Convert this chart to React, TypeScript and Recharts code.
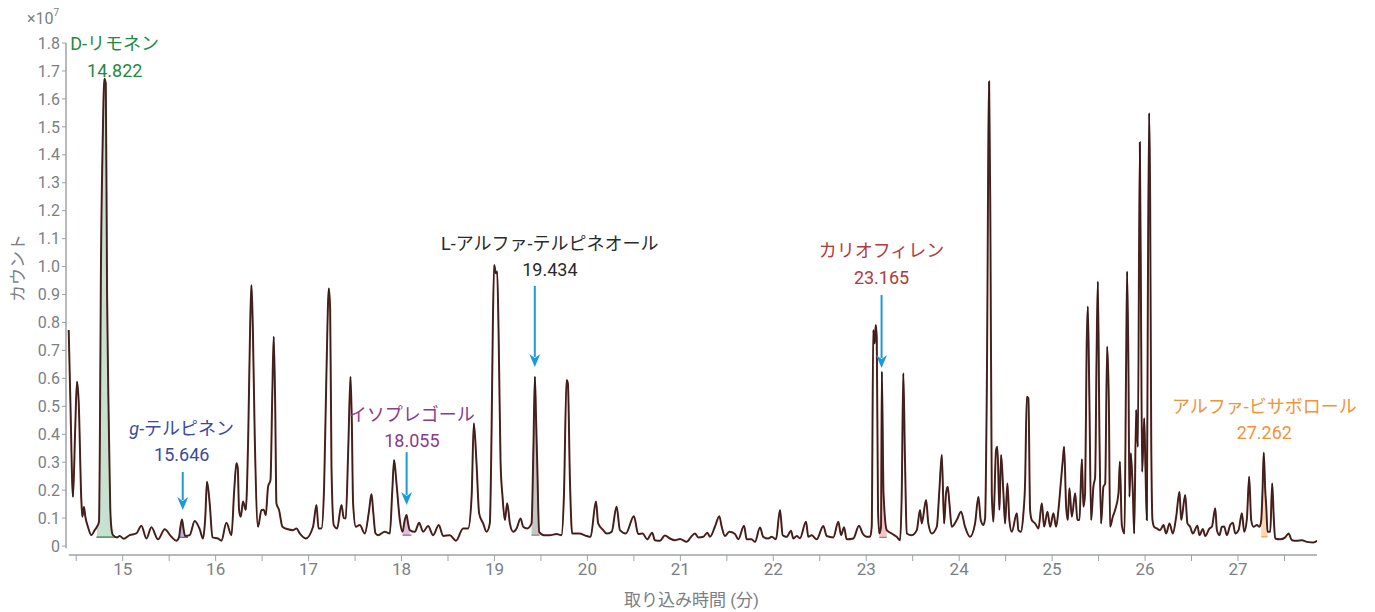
import {
  Area,
  ComposedChart,
  Line,
  ReferenceDot,
  ReferenceLine,
  XAxis,
  YAxis,
} from "recharts";

// TIC trace: [retention time (min), counts (×10^7)]
const trace: [number, number][] = [
  [14.419, 0.773], [14.437, 0.52], [14.465, 0.176], [14.489, 0.42], [14.508, 0.588],
  [14.526, 0.52], [14.555, 0.165], [14.566, 0.105], [14.583, 0.14], [14.598, 0.105],
  [14.626, 0.069], [14.663, 0.039], [14.699, 0.057], [14.723, 0.069], [14.745, 0.087],
  [14.755, 0.4], [14.765, 0.95], [14.785, 1.45], [14.803, 1.672], [14.818, 1.655],
  [14.832, 0.9], [14.85, 0.45], [14.866, 0.14], [14.88, 0.06], [14.896, 0.039],
  [14.939, 0.031], [14.968, 0.036], [15.011, 0.026], [15.075, 0.039], [15.147, 0.045],
  [15.201, 0.073], [15.255, 0.027], [15.309, 0.067], [15.38, 0.024], [15.452, 0.06],
  [15.524, 0.033], [15.578, 0.019], [15.605, 0.03], [15.622, 0.07], [15.638, 0.095],
  [15.655, 0.06], [15.672, 0.036], [15.721, 0.039], [15.775, 0.09], [15.829, 0.06],
  [15.864, 0.027], [15.888, 0.1], [15.907, 0.23], [15.936, 0.153], [15.966, 0.031],
  [16.026, 0.027], [16.062, 0.019], [16.116, 0.083], [16.17, 0.039], [16.2, 0.2],
  [16.224, 0.296], [16.238, 0.28], [16.252, 0.129], [16.27, 0.105], [16.295, 0.159],
  [16.324, 0.129], [16.351, 0.4], [16.372, 0.8], [16.385, 0.934], [16.399, 0.8],
  [16.421, 0.39], [16.456, 0.069], [16.493, 0.129], [16.518, 0.13], [16.539, 0.11],
  [16.564, 0.212], [16.59, 0.236], [16.61, 0.55], [16.625, 0.749], [16.641, 0.5],
  [16.654, 0.153], [16.682, 0.129], [16.719, 0.069], [16.779, 0.06], [16.833, 0.057],
  [16.87, 0.063], [16.905, 0.045], [16.97, 0.027], [17.048, 0.069], [17.085, 0.147],
  [17.107, 0.063], [17.139, 0.063], [17.167, 0.212], [17.191, 0.6], [17.218, 0.922],
  [17.232, 0.85], [17.247, 0.272], [17.271, 0.075], [17.307, 0.063], [17.354, 0.147],
  [17.379, 0.1], [17.4, 0.099], [17.427, 0.35], [17.451, 0.606], [17.465, 0.45],
  [17.479, 0.153], [17.508, 0.069], [17.551, 0.075], [17.605, 0.045], [17.648, 0.12],
  [17.677, 0.186], [17.696, 0.12], [17.72, 0.045], [17.748, 0.039], [17.82, 0.051],
  [17.874, 0.045], [17.901, 0.2], [17.92, 0.308], [17.946, 0.224], [17.982, 0.093],
  [18.011, 0.051], [18.033, 0.09], [18.054, 0.111], [18.071, 0.08], [18.089, 0.057],
  [18.143, 0.051], [18.189, 0.083], [18.233, 0.051], [18.286, 0.072], [18.34, 0.039],
  [18.401, 0.075], [18.448, 0.036], [18.52, 0.039], [18.585, 0.019], [18.663, 0.063],
  [18.717, 0.063], [18.754, 0.176], [18.778, 0.439], [18.807, 0.296], [18.835, 0.117],
  [18.878, 0.081], [18.915, 0.051], [18.95, 0.081], [18.969, 0.415], [18.983, 0.8],
  [18.997, 1.006], [19.015, 0.976], [19.029, 0.982], [19.044, 0.773], [19.066, 0.296],
  [19.087, 0.176], [19.112, 0.093], [19.137, 0.153], [19.166, 0.081], [19.201, 0.051],
  [19.238, 0.063], [19.281, 0.099], [19.309, 0.069], [19.352, 0.063], [19.399, 0.081],
  [19.419, 0.35], [19.435, 0.606], [19.448, 0.45], [19.46, 0.296], [19.481, 0.051],
  [19.532, 0.039], [19.596, 0.039], [19.668, 0.043], [19.722, 0.039], [19.747, 0.176],
  [19.776, 0.594], [19.79, 0.582], [19.812, 0.236], [19.836, 0.045], [19.912, 0.045],
  [19.991, 0.036], [20.034, 0.033], [20.092, 0.159], [20.116, 0.081], [20.17, 0.057],
  [20.207, 0.045], [20.261, 0.051], [20.314, 0.141], [20.35, 0.057], [20.414, 0.045],
  [20.5, 0.107], [20.547, 0.043], [20.594, 0.045], [20.643, 0.024], [20.697, 0.048],
  [20.726, 0.021], [20.78, 0.019], [20.834, 0.038], [20.888, 0.027], [20.942, 0.021],
  [20.996, 0.025], [21.068, 0.015], [21.111, 0.031], [21.157, 0.045], [21.193, 0.031],
  [21.247, 0.033], [21.29, 0.048], [21.319, 0.033], [21.372, 0.069], [21.419, 0.107],
  [21.445, 0.069], [21.48, 0.036], [21.526, 0.051], [21.588, 0.043], [21.623, 0.024],
  [21.685, 0.073], [21.714, 0.024], [21.767, 0.024], [21.803, 0.015], [21.857, 0.066],
  [21.892, 0.033], [21.946, 0.027], [21.983, 0.033], [22.029, 0.024], [22.072, 0.129],
  [22.101, 0.039], [22.144, 0.033], [22.191, 0.055], [22.215, 0.027], [22.252, 0.036],
  [22.287, 0.028], [22.352, 0.087], [22.377, 0.033], [22.413, 0.039], [22.467, 0.024],
  [22.538, 0.072], [22.575, 0.036], [22.646, 0.031], [22.7, 0.087], [22.729, 0.039],
  [22.761, 0.067], [22.79, 0.024], [22.861, 0.027], [22.922, 0.073], [22.962, 0.045],
  [23.005, 0.033], [23.041, 0.033], [23.059, 0.069], [23.076, 0.773], [23.091, 0.725],
  [23.102, 0.791], [23.113, 0.749], [23.127, 0.129], [23.141, 0.045], [23.159, 0.069],
  [23.168, 0.624], [23.186, 0.189], [23.221, 0.057], [23.274, 0.045], [23.328, 0.033],
  [23.364, 0.021], [23.382, 0.189], [23.399, 0.618], [23.417, 0.308], [23.436, 0.045],
  [23.49, 0.039], [23.544, 0.057], [23.579, 0.129], [23.597, 0.081], [23.644, 0.165],
  [23.668, 0.081], [23.705, 0.045], [23.759, 0.069], [23.787, 0.2], [23.813, 0.326],
  [23.838, 0.081], [23.859, 0.189], [23.877, 0.212], [23.895, 0.153], [23.92, 0.069],
  [23.974, 0.093], [24.02, 0.123], [24.063, 0.069], [24.117, 0.033], [24.171, 0.081],
  [24.207, 0.176], [24.232, 0.093], [24.26, 0.075], [24.279, 0.1], [24.297, 0.546],
  [24.322, 1.662], [24.336, 1.143], [24.351, 0.189], [24.368, 0.087], [24.397, 0.344],
  [24.411, 0.355], [24.433, 0.129], [24.451, 0.326], [24.476, 0.189], [24.494, 0.081],
  [24.519, 0.224], [24.54, 0.093], [24.566, 0.051], [24.62, 0.117], [24.637, 0.057],
  [24.663, 0.051], [24.691, 0.117], [24.709, 0.224], [24.728, 0.534], [24.745, 0.529],
  [24.763, 0.129], [24.781, 0.093], [24.817, 0.081], [24.853, 0.063], [24.889, 0.153],
  [24.914, 0.069], [24.95, 0.123], [24.979, 0.069], [25.014, 0.117], [25.043, 0.069],
  [25.068, 0.129], [25.093, 0.224], [25.115, 0.308], [25.129, 0.355], [25.151, 0.141],
  [25.169, 0.093], [25.186, 0.207], [25.212, 0.105], [25.248, 0.189], [25.272, 0.093],
  [25.294, 0.093], [25.32, 0.311], [25.337, 0.141], [25.355, 0.189], [25.371, 0.7],
  [25.384, 0.857], [25.401, 0.523], [25.42, 0.093], [25.444, 0.212], [25.463, 0.248],
  [25.479, 0.7], [25.492, 0.946], [25.509, 0.403], [25.527, 0.081], [25.552, 0.212],
  [25.571, 0.224], [25.592, 0.713], [25.61, 0.523], [25.624, 0.069], [25.653, 0.105],
  [25.678, 0.129], [25.714, 0.189], [25.729, 0.302], [25.75, 0.075], [25.778, 0.045],
  [25.796, 0.642], [25.807, 0.982], [25.821, 0.642], [25.832, 0.176], [25.847, 0.332],
  [25.869, 0.189], [25.883, 0.045], [25.904, 0.487], [25.922, 0.355], [25.944, 1.445],
  [25.958, 0.761], [25.969, 0.266], [25.991, 0.457], [26.004, 0.284], [26.019, 0.093],
  [26.03, 0.88], [26.044, 1.549], [26.055, 1.238], [26.066, 0.403], [26.08, 0.093],
  [26.098, 0.069], [26.127, 0.063], [26.162, 0.057], [26.198, 0.075], [26.227, 0.045],
  [26.263, 0.081], [26.299, 0.045], [26.335, 0.105], [26.37, 0.194], [26.389, 0.093],
  [26.432, 0.183], [26.456, 0.081], [26.485, 0.069], [26.514, 0.045], [26.563, 0.073],
  [26.585, 0.039], [26.622, 0.061], [26.647, 0.036], [26.693, 0.063], [26.719, 0.069],
  [26.755, 0.135], [26.773, 0.057], [26.8, 0.039], [26.827, 0.069], [26.851, 0.07],
  [26.88, 0.039], [26.916, 0.075], [26.945, 0.083], [26.97, 0.045], [27.006, 0.057],
  [27.042, 0.117], [27.067, 0.051], [27.096, 0.099], [27.12, 0.248], [27.142, 0.093],
  [27.167, 0.069], [27.203, 0.075], [27.232, 0.069], [27.25, 0.093], [27.264, 0.2],
  [27.277, 0.334], [27.293, 0.2], [27.304, 0.141], [27.318, 0.051], [27.347, 0.051],
  [27.368, 0.224], [27.386, 0.093], [27.4, 0.027], [27.454, 0.024], [27.508, 0.031],
  [27.544, 0.045], [27.58, 0.021], [27.634, 0.019], [27.688, 0.021], [27.742, 0.015],
  [27.813, 0.013], [27.85, 0.019],
];

// identified compounds
const peakNames = [
  "D-リモネン",
  "g-テルピネン",
  "イソプレゴール",
  "L-アルファ-テルピネオール",
  "カリオフィレン",
  "アルファ-ビサボロール",
];
const peakTimes = [14.822, 15.646, 18.055, 19.434, 23.165, 27.262];
const peakStart = [14.717, 15.595, 18.011, 19.399, 23.141, 27.25];
const peakEnd = [14.93, 15.703, 18.107, 19.485, 23.221, 27.318];
const peakBaseline = [0.032, 0.031, 0.039, 0.039, 0.031, 0.033];

const xTicks = [
  14.5, 15, 15.5, 16, 16.5, 17, 17.5, 18, 18.5, 19, 19.5, 20, 20.5, 21,
  21.5, 22, 22.5, 23, 23.5, 24, 24.5, 25, 25.5, 26, 26.5, 27, 27.5,
];
const yTicks = [
  0, 0.1, 0.2, 0.3, 0.4, 0.5, 0.6, 0.7, 0.8, 0.9, 1.0, 1.1, 1.2, 1.3, 1.4,
  1.5, 1.6, 1.7, 1.8,
];

const X_DOMAIN: [number, number] = [14.39, 27.85];
const Y_DOMAIN: [number, number] = [-0.032, 1.8];

const FONT = "Roboto, 'Noto Sans CJK JP', sans-serif";
const AXIS = "#9ea2a8";
const AXIS_TEXT = "#7b7f86";
const ARROW = "#1d9ad6";

const PEAK_STYLES = [
  { text: "#1f8a42", fill: "#c6e1d0", edge: "#2e7d4a" },
  { text: "#3a4a9e", fill: "#b3b8dc", edge: "#5f69b3" },
  { text: "#8c3a8c", fill: "#dcc1dc", edge: "#a463a4" },
  { text: "#2a2a2a", fill: "#c6c6c6", edge: "#8a8a8a" },
  { text: "#b23a3c", fill: "#f1c6c6", edge: "#d46a6a" },
  { text: "#f39237", fill: "#fbd7b4", edge: "#f2a25a" },
];

// label centre (min, counts) and optional arrow from/to (counts)
const LABEL_LAYOUT = [
  { x: 14.914, y: 1.797, arrow: null },
  { x: 15.635, y: 0.422, arrow: [0.265, 0.129] },
  { x: 18.111, y: 0.472, arrow: [0.336, 0.147] },
  { x: 19.596, y: 1.084, arrow: [0.931, 0.641] },
  { x: 23.165, y: 1.056, arrow: [0.898, 0.637] },
  { x: 27.283, y: 0.501, arrow: null },
];

const traceData = trace.map(([t, c]) => ({ t, c }));

function ArrowShape(props: any) {
  const { x1, y1, x2, y2 } = props;
  const head = 13;
  return (
    <g>
      <line x1={x1} y1={y1} x2={x2} y2={y2 - head + 3} stroke={ARROW} strokeWidth={2} />
      <polygon
        points={`${x2 - 5.5},${y2 - head} ${x2},${y2 - head + 4} ${x2 + 5.5},${y2 - head} ${x2},${y2}`}
        fill={ARROW}
      />
    </g>
  );
}

function peakLabel(i: number) {
  return (props: any) => {
    const { cx, cy } = props;
    const name = peakNames[i];
    const color = PEAK_STYLES[i].text;
    const italic = name.startsWith("g-");
    return (
      <g fontFamily={FONT} fontSize={18} fill={color} textAnchor="middle">
        <text x={cx} y={cy} dominantBaseline="central">
          {italic ? (
            <>
              <tspan fontStyle="italic">g</tspan>
              {name.slice(1)}
            </>
          ) : (
            name
          )}
        </text>
        <text x={cx} y={cy + 26.5} dominantBaseline="central">
          {peakTimes[i].toFixed(3)}
        </text>
      </g>
    );
  };
}

const yAxisTitles = () => (
  <g fontFamily={FONT} fill={AXIS_TEXT}>
    <text x={27} y={24} fontSize={16}>
      ×10
      <tspan fontSize={10} dy={-8}>
        7
      </tspan>
    </text>
    <text
      x={18}
      y={268}
      fontSize={17}
      textAnchor="middle"
      dominantBaseline="central"
      transform="rotate(-90 18 268)"
    >
      カウント
    </text>
  </g>
);

export default function App() {
  return (
    <div style={{ position: "absolute", left: 0, top: 0, width: 1375, height: 612, background: "#fff" }}>
      <ComposedChart width={1375} height={612} margin={{ top: 43, right: 58, bottom: 0, left: 0 }}>
        <XAxis
          type="number"
          dataKey="t"
          domain={X_DOMAIN}
          ticks={xTicks}
          allowDataOverflow
          height={57}
          axisLine={false}
          tickLine={{ stroke: AXIS }}
          tickSize={6}
          tick={{ fill: AXIS_TEXT, fontSize: 17, fontFamily: FONT }}
          tickFormatter={(v: number) => (Number.isInteger(v) ? String(v) : "")}
          label={{
            value: "取り込み時間 (分)",
            position: "insideBottom",
            offset: 6,
            fill: AXIS_TEXT,
            fontSize: 17,
            fontFamily: FONT,
          }}
        />
        <YAxis
          type="number"
          domain={Y_DOMAIN}
          ticks={yTicks}
          allowDataOverflow
          width={66}
          axisLine={false}
          tickLine={{ stroke: AXIS }}
          tickSize={4}
          tick={{ fill: AXIS_TEXT, fontSize: 16, fontFamily: FONT }}
          tickFormatter={(v: number) => (v === 0 ? "0" : v.toFixed(1))}
          label={{ content: yAxisTitles }}
        />

        <ReferenceLine
          segment={[{ x: X_DOMAIN[0], y: -0.008 }, { x: X_DOMAIN[0], y: Y_DOMAIN[1] }]}
          stroke={AXIS}
          strokeWidth={1.5}
          ifOverflow="visible"
        />
        <ReferenceLine
          segment={[{ x: X_DOMAIN[0] + 0.03, y: Y_DOMAIN[0] }, { x: X_DOMAIN[1], y: Y_DOMAIN[0] }]}
          stroke={AXIS}
          strokeWidth={1.5}
          ifOverflow="visible"
        />

        {peakNames.map((name, i) => (
          <Area
            key={`fill-${name}`}
            data={traceData.filter((p) => p.t >= peakStart[i] && p.t <= peakEnd[i])}
            dataKey="c"
            type="monotone"
            baseValue={peakBaseline[i]}
            stroke="none"
            fill={PEAK_STYLES[i].fill}
            fillOpacity={1}
            isAnimationActive={false}
          />
        ))}
        {peakNames.map((name, i) => (
          <ReferenceLine
            key={`base-${name}`}
            segment={[
              { x: peakStart[i], y: peakBaseline[i] },
              { x: peakEnd[i], y: peakBaseline[i] },
            ]}
            stroke={PEAK_STYLES[i].edge}
            strokeWidth={1.3}
          />
        ))}

        <Line
          data={traceData}
          dataKey="c"
          type="monotone"
          stroke="#5e2b25"
          strokeWidth={2}
          dot={false}
          activeDot={false}
          isAnimationActive={false}
        />
        <Line
          data={traceData}
          dataKey="c"
          type="monotone"
          stroke="#1c1212"
          strokeWidth={0.8}
          strokeOpacity={0.75}
          dot={false}
          activeDot={false}
          isAnimationActive={false}
        />

        {LABEL_LAYOUT.map((l, i) =>
          l.arrow ? (
            <ReferenceLine
              key={`arrow-${i}`}
              segment={[
                { x: peakTimes[i], y: l.arrow[0] },
                { x: peakTimes[i], y: l.arrow[1] },
              ]}
              shape={ArrowShape}
            />
          ) : null
        )}
        {LABEL_LAYOUT.map((l, i) => (
          <ReferenceDot
            key={`label-${i}`}
            x={l.x}
            y={l.y}
            r={0}
            ifOverflow="visible"
            shape={peakLabel(i)}
          />
        ))}
      </ComposedChart>
    </div>
  );
}
